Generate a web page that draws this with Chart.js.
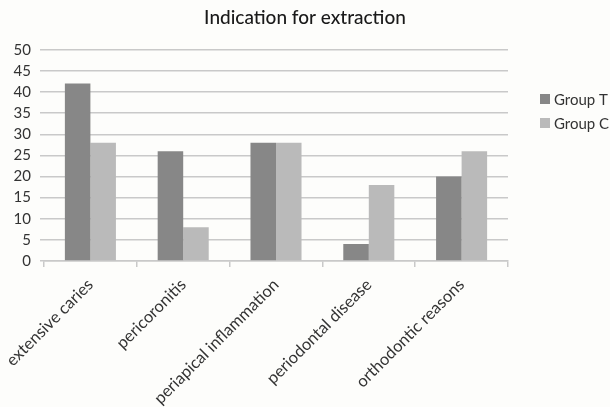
<!DOCTYPE html>
<html>
<head>
<meta charset="utf-8">
<script src="https://cdn.jsdelivr.net/npm/chart.js@4"></script>
<style>
  html, body { margin: 0; padding: 0; background: #fdfdfb; overflow: hidden; }
  #wrap { width: 610px; height: 407px; }
</style>
</head>
<body>
<div id="wrap"><canvas id="c" width="610" height="407"></canvas></div>
<script>
const categories = ['extensive caries', 'pericoronitis', 'periapical inflammation', 'periodontal disease', 'orthodontic reasons'];
const groupT = [42, 26, 28, 4, 20];
const groupC = [28, 8, 28, 18, 26];
const yTicks = [0, 5, 10, 15, 20, 25, 30, 35, 40, 45, 50];

const FONT = 'Lato, "Open Sans", sans-serif';
const TEXT = '#333333';
const GRID = '#c9c9c9';

// Legend drawn at the right of the plot, Excel style
const sideLegend = {
  id: 'sideLegend',
  afterDraw(chart) {
    const ctx = chart.ctx;
    ctx.save();
    ctx.font = '15px ' + FONT;
    ctx.textBaseline = 'middle';
    chart.data.datasets.forEach((ds, i) => {
      const y = 99 + i * 24;
      ctx.fillStyle = ds.backgroundColor;
      ctx.fillRect(540, y - 5, 10, 10);
      ctx.fillStyle = TEXT;
      ctx.fillText(ds.label, 554, y + 1);
    });
    ctx.restore();
  }
};

new Chart(document.getElementById('c'), {
  type: 'bar',
  data: {
    labels: categories,
    datasets: [
      { label: 'Group T', data: groupT, backgroundColor: '#878787' },
      { label: 'Group C', data: groupC, backgroundColor: '#bababa' }
    ]
  },
  options: {
    responsive: false,
    animation: false,
    devicePixelRatio: 1,
    datasets: { bar: { categoryPercentage: 0.55, barPercentage: 1.0 } },
    layout: { padding: 0 },
    plugins: {
      legend: { display: false },
      tooltip: { enabled: false },
      title: {
        display: true,
        text: 'Indication for extraction',
        color: '#1a1a1a',
        font: { family: FONT, size: 19, weight: '500' },
        padding: { top: 6, bottom: 21 }
      }
    },
    scales: {
      x: {
        grid: { display: true, drawOnChartArea: false, drawTicks: true, tickLength: 6, color: GRID, lineWidth: 1.5 },
        border: { display: true, color: GRID, width: 1.5 },
        ticks: {
          color: TEXT,
          font: { family: FONT, size: 16.5 },
          minRotation: 45,
          maxRotation: 45,
          padding: 8
        },
        afterFit(scale) {
          scale.height = 407 - 261;
          // let the first rotated label overhang the y-axis column
          scale.paddingLeft = 0;
          scale.paddingRight = 0;
        }
      },
      y: {
        min: 0,
        max: 50,
        afterBuildTicks(scale) { scale.ticks = yTicks.map(v => ({ value: v })); },
        grid: { color: GRID, lineWidth: 1.5, drawTicks: true, tickLength: 4 },
        border: { display: false },
        ticks: {
          color: TEXT,
          font: { family: FONT, size: 15 },
          padding: 9
        },
        afterFit(scale) { scale.width = 44; }
      },
      // empty right-hand axis reserving room for the legend column
      side: {
        position: 'right',
        display: true,
        grid: { display: false },
        border: { display: false },
        ticks: { display: false },
        afterFit(scale) { scale.width = 102; }
      }
    }
  },
  plugins: [sideLegend]
});
</script>
</body>
</html>
